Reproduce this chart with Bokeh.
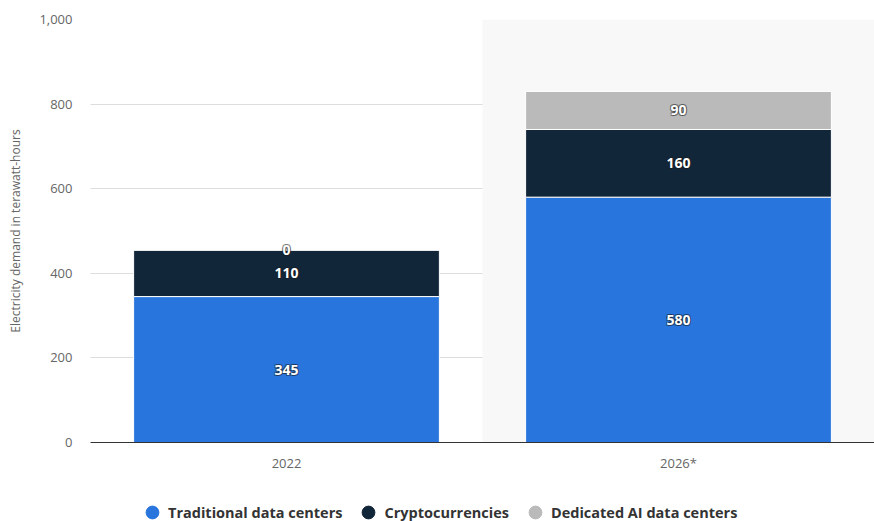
from bokeh.plotting import figure
from bokeh.layouts import column
from bokeh.models import (ColumnDataSource, FactorRange, Range1d, NumeralTickFormatter,
                          FixedTicker, Legend, LegendItem)
from bokeh.core.properties import value
from bokeh.embed import file_html
from bokeh.resources import INLINE
import numpy as np

years = ["2022", "2026*"]
traditional = [345, 580]
crypto = [110, 160]
dedicated_ai = [0, 90]
series_names = ["Traditional data centers", "Cryptocurrencies", "Dedicated AI data centers"]
series_keys = ["traditional", "crypto", "ai"]
colors = ["#2876DD", "#12263A", "#BABABA"]
y_ticks = [0, 200, 400, 600, 800, 1000]
highlight_year = ["2026*"]

FONT = "Open Sans"

p = figure(x_range=FactorRange(*years, range_padding=0), y_range=Range1d(0, 1000),
           width=874, height=480, output_backend="svg", toolbar_location=None,
           min_border_left=90, min_border_right=0, min_border_top=19, min_border_bottom=38)
p.outline_line_color = None
p.background_fill_color = "white"

# highlighted forecast band
p.vbar(x=highlight_year, top=[1000], width=1.0, fill_color="#F8F8F8", line_color=None)

src = ColumnDataSource(dict(years=years, traditional=traditional, crypto=crypto, ai=dedicated_ai))
p.vbar_stack(series_keys, x="years", width=0.78, source=src, fill_color=colors,
             line_color="white", line_width=1)

# value labels centered in each segment
vals = np.array([traditional, crypto, dedicated_ai], dtype=float)
bottoms = np.vstack([np.zeros(len(years)), np.cumsum(vals, axis=0)[:-1]])
centers = bottoms + vals / 2
lx, ly, lt = [], [], []
for i in range(vals.shape[0]):
    for j, yr in enumerate(years):
        lx.append(yr); ly.append(centers[i, j]); lt.append(str(int(vals[i, j])))
lsrc = ColumnDataSource(dict(x=lx, y=ly, t=lt))
for dx, dy in [(1, 1), (-1, 1), (1, -1), (-1, -1)]:
    p.text(x="x", y="y", text="t", source=lsrc, text_align="center", text_baseline="middle",
           text_font=value(FONT), text_font_size="14px", text_font_style="bold",
           text_color="#1a1a1a", text_alpha=0.45, x_offset=dx, y_offset=dy)
p.text(x="x", y="y", text="t", source=lsrc, text_align="center", text_baseline="middle",
       text_font=value(FONT), text_font_size="14px", text_font_style="bold",
       text_color="white")

# axes
p.yaxis.ticker = FixedTicker(ticks=y_ticks)
p.yaxis.formatter = NumeralTickFormatter(format="0,0")
p.yaxis.axis_line_color = None
p.yaxis.major_tick_line_color = None
p.yaxis.minor_tick_line_color = None
p.yaxis.major_tick_out = 0
p.yaxis.major_tick_in = 0
p.yaxis.major_label_standoff = 18
p.yaxis.major_label_text_font = FONT
p.yaxis.major_label_text_font_size = "13px"
p.yaxis.major_label_text_color = "#666666"
p.yaxis.axis_label = "Electricity demand in terawatt-hours"
p.yaxis.axis_label_text_font = FONT
p.yaxis.axis_label_text_font_size = "12px"
p.yaxis.axis_label_text_font_style = "normal"
p.yaxis.axis_label_text_color = "#666666"
p.yaxis.axis_label_standoff = 12

p.xaxis.axis_line_color = "#333333"
p.xaxis.axis_line_width = 1
p.xaxis.major_tick_line_color = None
p.xaxis.minor_tick_line_color = None
p.xaxis.major_tick_out = 0
p.xaxis.major_tick_in = 0
p.xaxis.major_label_standoff = 11
p.xaxis.major_label_text_font = FONT
p.xaxis.major_label_text_font_size = "13px"
p.xaxis.major_label_text_color = "#666666"

p.xgrid.grid_line_color = None
p.ygrid.grid_line_color = "#BBBBBB"
p.ygrid.grid_line_dash = "1 1"
p.ygrid.grid_line_width = 1

# legend strip (its frame is aligned with the chart frame by the column layout)
lg = figure(width=874, height=41, output_backend="svg", toolbar_location=None,
            x_range=Range1d(0, 1), y_range=Range1d(0, 1),
            min_border_left=0, min_border_right=0, min_border_top=0, min_border_bottom=0,
            x_axis_type=None, y_axis_type=None)
lg.outline_line_color = None
lg.xgrid.grid_line_color = None
lg.ygrid.grid_line_color = None
items = []
for name, c in zip(series_names, colors):
    # hidden swatch source (outside the strip's range): only its legend glyph shows
    r = lg.scatter(x=[-5], y=[-5], marker="circle", size=13, fill_color=c, line_color=c)
    items.append(LegendItem(label=name, renderers=[r]))
legend = Legend(items=items, orientation="horizontal", location=(46, -7),
                label_text_font=FONT, label_text_font_size="14.5px", label_text_color="#333333",
                label_text_font_style="bold", glyph_width=32, glyph_height=32,
                spacing=10, label_standoff=0, padding=0, margin=0,
                background_fill_alpha=0, border_line_color=None)
lg.add_layout(legend, "center")

open("out.html", "w").write(file_html(column(p, lg, spacing=0), INLINE))
